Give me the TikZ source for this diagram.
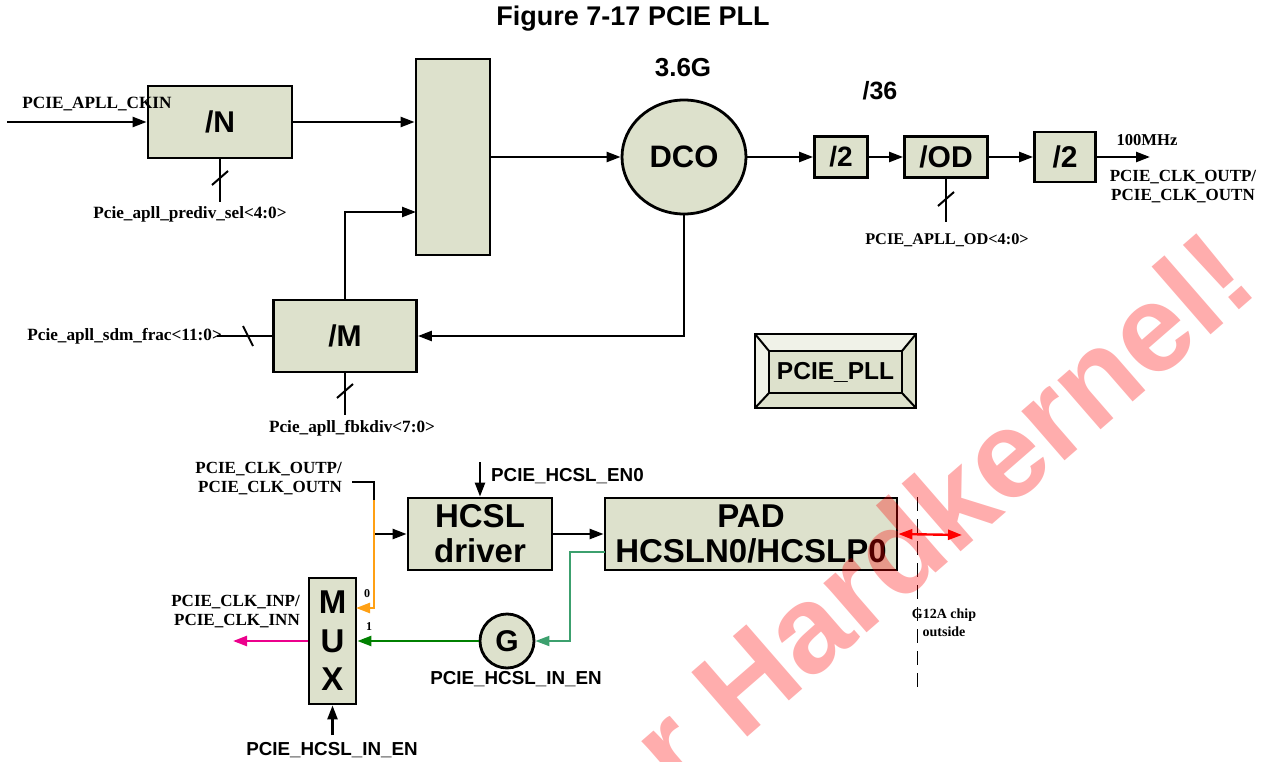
\documentclass[tikz,border=0pt]{standalone}
\usepackage{fontspec}
\setmainfont{Liberation Serif}
\newfontfamily\arialf{Liberation Sans}
\usetikzlibrary{arrows.meta,shapes.geometric}

\definecolor{boxfill}{RGB}{221,225,204}
\definecolor{boxlite}{RGB}{240,242,232}
\definecolor{muxorange}{RGB}{255,160,20}
\definecolor{ingreen}{RGB}{0,128,0}
\definecolor{padgreen}{RGB}{60,160,110}

\tikzset{
  blk/.style={draw, line width=2.8pt, fill=boxfill, inner sep=0pt, align=center,
    font=\arialf\bfseries\fontsize{30}{32}\selectfont},
  wire/.style={line width=2.4pt, -{Triangle[length=14pt,width=10pt]}},
  bus/.style={line width=2.4pt},
  sig/.style={font=\bfseries\fontsize{17.2}{19}\selectfont, inner sep=0pt},
  ssig/.style={font=\bfseries\fontsize{17}{19}\selectfont, inner sep=0pt},
  hsig/.style={font=\arialf\bfseries\fontsize{18.8}{20}\selectfont, inner sep=0pt},
  slash/.pic={\draw[line width=2pt] (-8,7) -- (8,-7);},
  hslash/.pic={\draw[line width=2pt] (-5,-10) -- (5,10);}
}

\begin{document}
\begin{tikzpicture}[x=1pt, y=-1pt]
  \useasboundingbox (0,0) rectangle (1268,762);
  \node[font=\arialf\bfseries\fontsize{27}{29}\selectfont] (title) at (633,19) {Figure 7-17 PCIE PLL};

  % PLL loop
  \node[blk, minimum width=144pt, minimum height=72pt] (ndiv) at (220,122) {/N};
  \node[blk, minimum width=74pt, minimum height=196pt] (mix) at (453,157) {};
  \node[blk, ellipse, minimum width=124pt, minimum height=114pt,
    font=\arialf\bfseries\fontsize{31}{32}\selectfont] (dco) at (684,157) {DCO};
  \node[blk, minimum width=143pt, minimum height=72pt] (mdiv) at (345,336) {/M};
  \node[blk, minimum width=53pt, minimum height=41pt,
    font=\arialf\bfseries\fontsize{28}{30}\selectfont] (div2a) at (841,157) {/2};
  \node[blk, minimum width=83pt, minimum height=41pt] (oddiv) at (946,157) {/OD};
  \node[blk, minimum width=61pt, minimum height=50pt] (div2b) at (1065,157) {/2};

  \coordinate (ckin) at (7,122);
  \draw[wire] (ckin) -- (ndiv.west);
  \draw[wire] (ndiv.east) -- (ndiv.east -| mix.west);
  \draw[wire] (mix.east) -- (dco.west);
  \draw[wire] (dco.east) -- (div2a.west);
  \draw[wire] (div2a.east) -- (oddiv.west);
  \draw[wire] (oddiv.east) -- (div2b.west);
  \coordinate (clkout) at (1150,157);
  \draw[wire] (div2b.east) -- (clkout);
  \draw[wire] (dco.south) |- (mdiv.east);
  \coordinate (fbin) at (416,212);
  \draw[wire] (mdiv.north) |- (fbin);

  % control buses
  \coordinate (nsel) at (220,202);
  \draw[bus] (ndiv.south) -- (nsel);
  \pic at (220,178) {slash};
  \coordinate (frac) at (217,336);
  \draw[bus] (mdiv.west) -- (frac);
  \pic at (248,336) {hslash};
  \coordinate (fbk) at (345,415);
  \draw[bus] (mdiv.south) -- (fbk);
  \pic at (345,391) {slash};
  \coordinate (odsel) at (946,222);
  \draw[bus] (oddiv.south) -- (odsel);
  \pic at (946,199) {slash};

  \node[sig] (ckinlbl) at (97,104) {PCIE\_APLL\_CKIN};
  \node[sig] (nsellbl) at (190,214) {Pcie\_apll\_prediv\_sel<4:0>};
  \node[sig, anchor=east] (fraclbl) at (222,336) {Pcie\_apll\_sdm\_frac<11:0>};
  \node[sig] (fbklbl) at (352,428) {Pcie\_apll\_fbkdiv<7:0>};
  \node[font=\arialf\bfseries\fontsize{26}{28}\selectfont] (freq) at (683,68) {3.6G};
  \node[font=\arialf\bfseries\fontsize{25}{28}\selectfont] (ratio) at (880,91) {/36};
  \node[font=\bfseries\fontsize{16.6}{19}\selectfont] (mhz) at (1147,140) {100MHz};
  \node[ssig, align=center] (outlbl) at (1183,187) {PCIE\_CLK\_OUTP/\\PCIE\_CLK\_OUTN};
  \node[font=\bfseries\fontsize{16.3}{19}\selectfont] (odlbl) at (947,240) {PCIE\_APLL\_OD<4:0>};

  % PCIE_PLL badge
  \fill[boxfill] (755,334) rectangle (916,408);
  \fill[boxlite] (755,334) -- (916,334) -- (902,351) -- (769,351) -- (769,393) -- (755,408) -- cycle;
  \draw[line width=2pt] (755,334) -- (769,351) (916,334) -- (902,351)
    (755,408) -- (769,393) (916,408) -- (902,393);
  \draw[line width=2.5pt] (769,351) rectangle (902,393);
  \draw[line width=2.8pt] (755,334) rectangle (916,408);
  \node[font=\arialf\bfseries\fontsize{24.5}{26}\selectfont] (pll) at (835.5,372) {PCIE\_PLL};

  % HCSL output / input
  \node[blk, minimum width=144pt, minimum height=72pt,
    font=\arialf\bfseries\fontsize{33}{35}\selectfont] (hcsl) at (480,534) {HCSL\\driver};
  \node[blk, minimum width=292pt, minimum height=72pt,
    font=\arialf\bfseries\fontsize{33}{35}\selectfont] (pad) at (751,534) {PAD\\HCSLN0/HCSLP0};
  \node[blk, minimum width=47pt, minimum height=126pt,
    font=\arialf\bfseries\fontsize{33}{38.5}\selectfont] (mux) at (332.5,641) {M\\U\\X};
  \node[blk, circle, minimum size=54pt] (gate) at (507,641) {G};

  \coordinate (fin) at (352,482);
  \coordinate (fj) at (374,482);
  \coordinate (fs) at (374,500);
  \coordinate (fsplit) at (374,534);
  \coordinate (mux0) at (356,608);
  \draw[bus] (fin) -- (fj) -- (fs);
  \draw[wire] (fsplit) -- (hcsl.west);
  \draw[wire, muxorange] (fs) |- (mux0);
  \draw[wire] (hcsl.east) -- (pad.west);
  \coordinate (en0) at (480,462);
  \draw[wire] (en0) -- (hcsl.north);
  \coordinate (padg) at (605,552);
  \coordinate (gbend) at (570,552);
  \draw[wire, padgreen, line width=2pt] (padg) -- (gbend) |- (gate.east);
  \draw[wire, ingreen] (gate.west) -- (gate.west -| mux.east);
  \coordinate (clkin) at (233,641);
  \draw[wire, magenta] (mux.west) -- (clkin);
  \coordinate (muxsel) at (332.5,735);
  \draw[wire] (muxsel) -- (mux.south);
  \coordinate (padout) at (962,535);
  \draw[line width=2.4pt, red, {Triangle[length=14pt,width=10pt]}-{Triangle[length=14pt,width=10pt]}] (pad.east) -- (padout);
  \coordinate (chiptop) at (917,497);
  \coordinate (chipbot) at (917,695);
  \draw[line width=1pt, dash pattern=on 14pt off 8pt] (chiptop) -- (chipbot);

  \node[ssig, align=right, anchor=east] (feedlbl) at (342,479) {PCIE\_CLK\_OUTP/\\PCIE\_CLK\_OUTN};
  \node[hsig, anchor=west] (en0lbl) at (491,476) {PCIE\_HCSL\_EN0};
  \node[hsig] (gatelbl) at (516,679) {PCIE\_HCSL\_IN\_EN};
  \node[hsig] (sellbl) at (332,750) {PCIE\_HCSL\_IN\_EN};
  \node[ssig, align=right, anchor=east] (inlbl) at (300,612) {PCIE\_CLK\_INP/\\PCIE\_CLK\_INN};
  \node[font=\bfseries\fontsize{12}{14}\selectfont] (in0) at (367,594) {0};
  \node[font=\bfseries\fontsize{12}{14}\selectfont] (in1) at (369,627) {1};
  \node[font=\bfseries\fontsize{14}{18}\selectfont, align=center] (chiplbl) at (944,623) {G12A chip\\outside};

  % watermark
  \node[rotate=41, text=red, text opacity=0.32, inner sep=0pt,
    font=\arialf\bfseries\fontsize{124}{124}\selectfont] (wmark) at (941,510) {r Hardkernel!};
\end{tikzpicture}
\end{document}
